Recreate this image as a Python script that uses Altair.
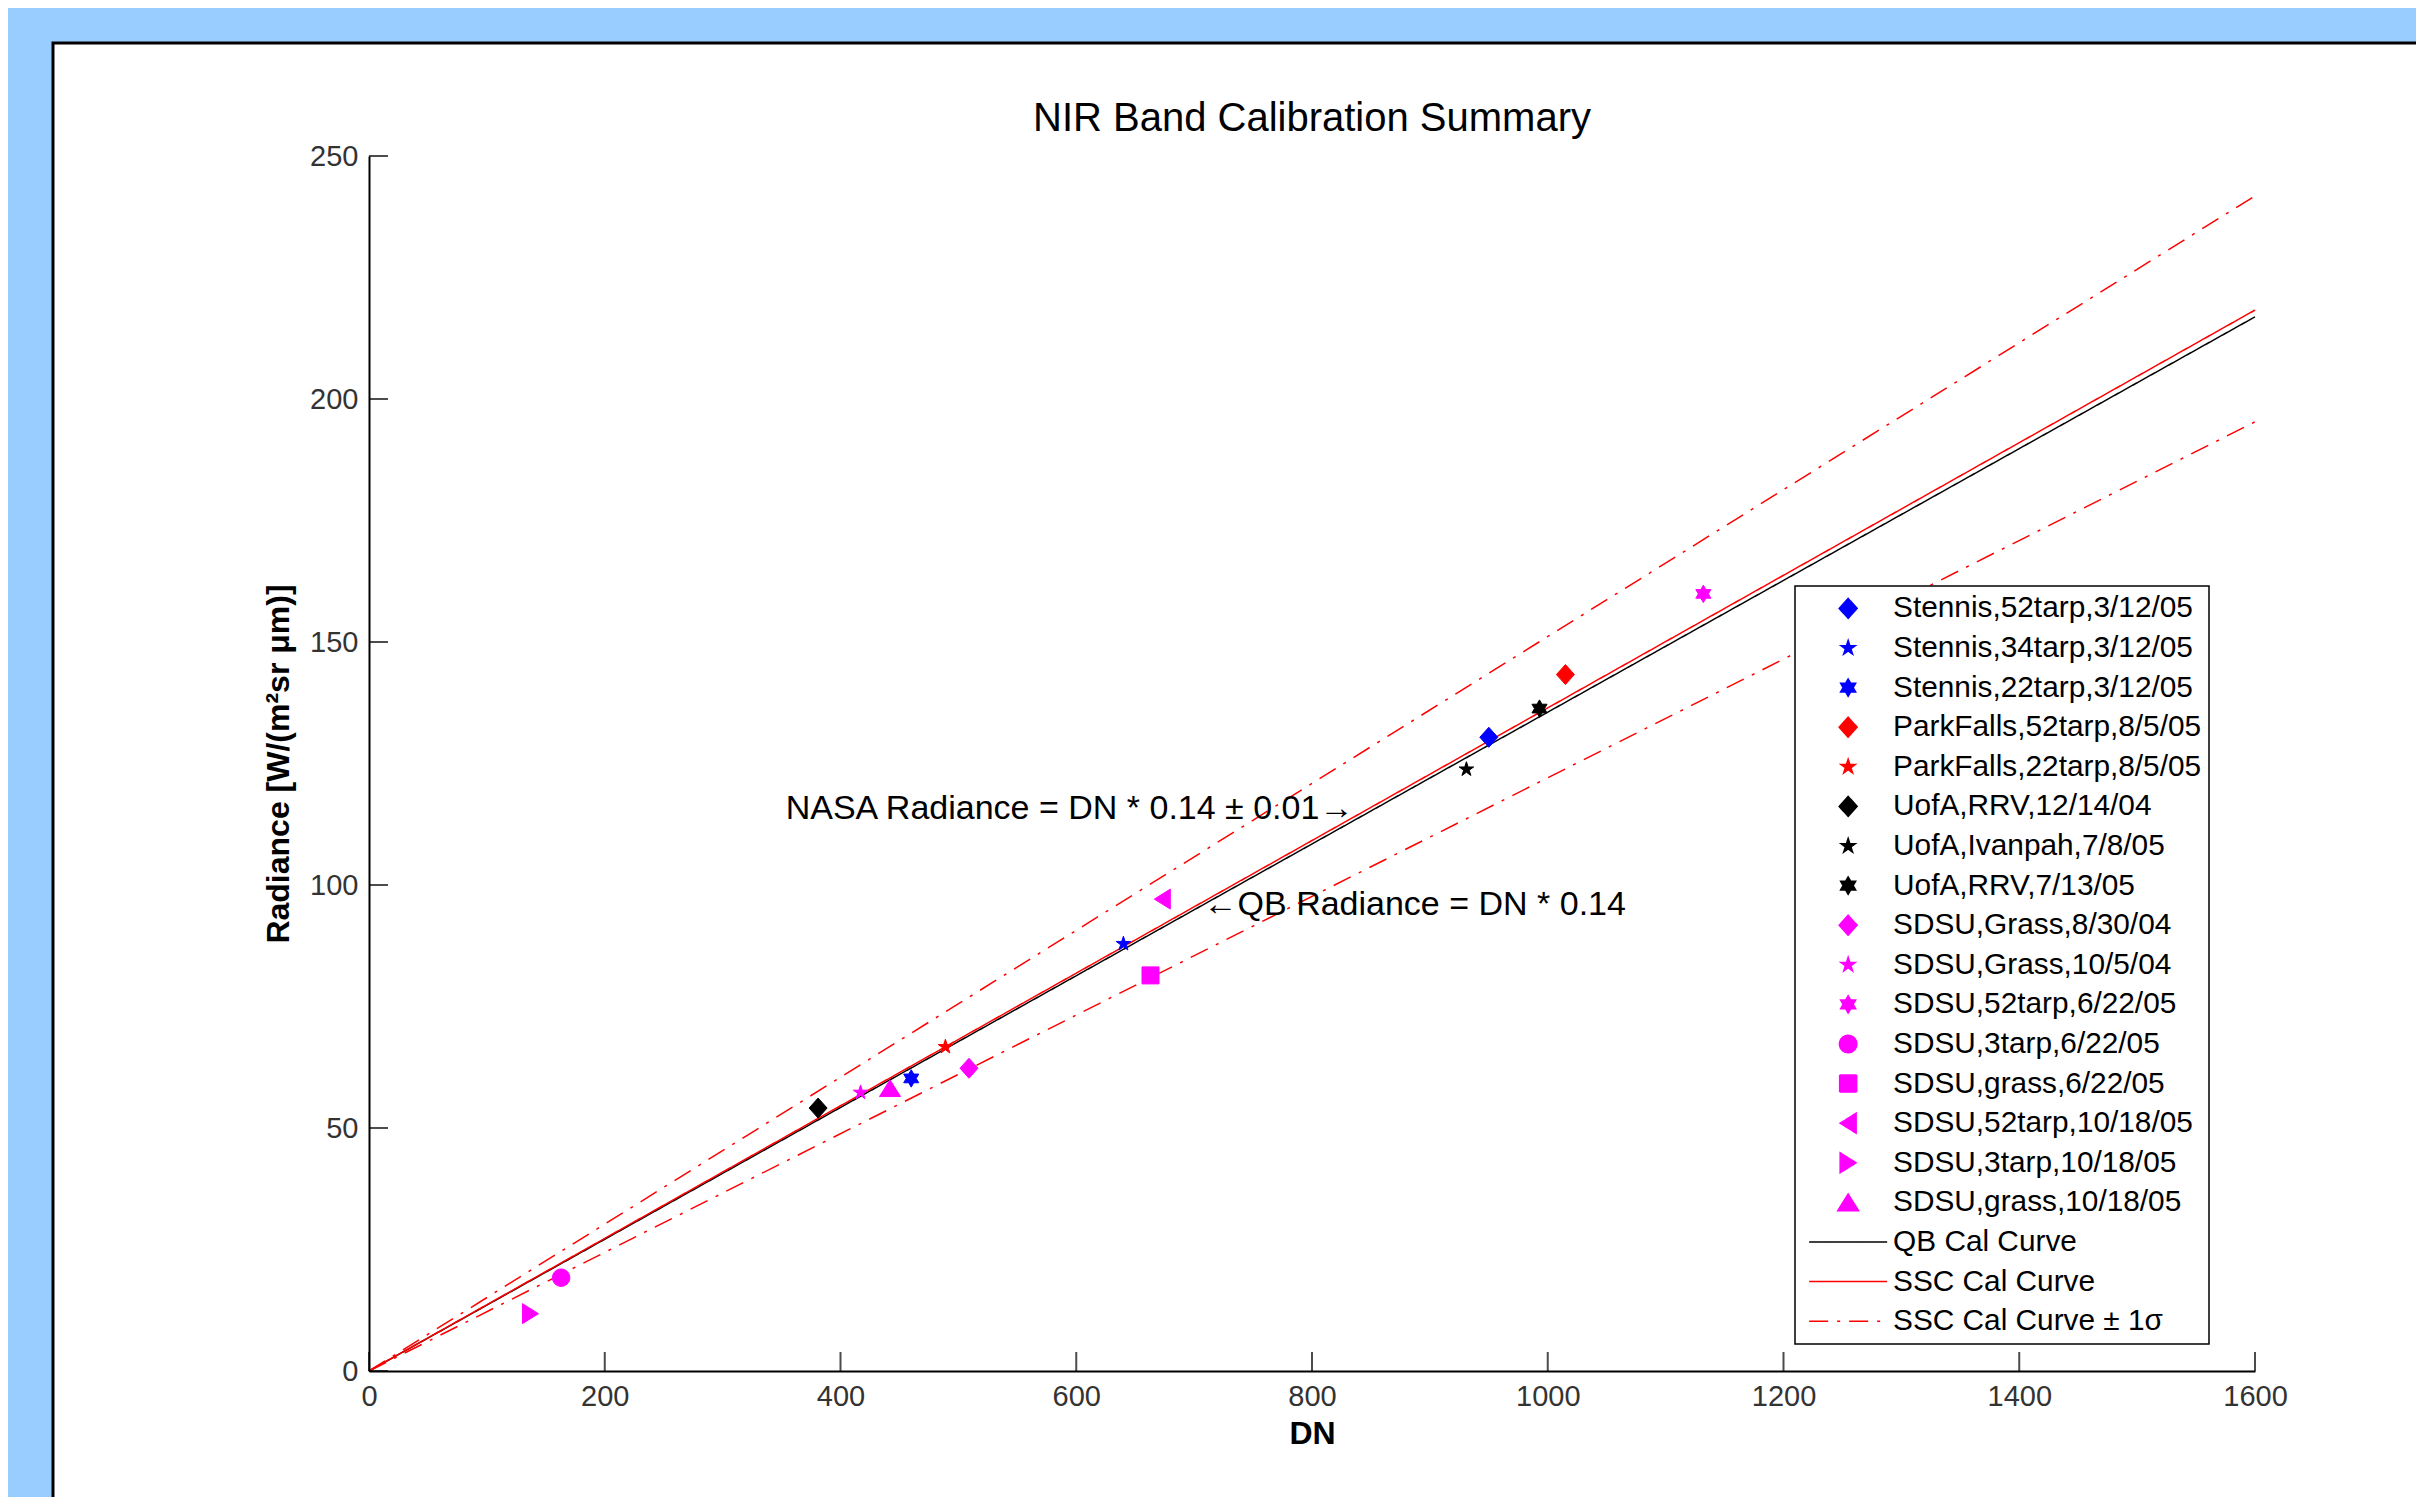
import math
import altair as alt
import pandas as pd

FONT = "Liberation Sans"

# ---------------- data ----------------
series_names = [
    "Stennis,52tarp,3/12/05", "Stennis,34tarp,3/12/05", "Stennis,22tarp,3/12/05",
    "ParkFalls,52tarp,8/5/05", "ParkFalls,22tarp,8/5/05",
    "UofA,RRV,12/14/04", "UofA,Ivanpah,7/8/05", "UofA,RRV,7/13/05",
    "SDSU,Grass,8/30/04", "SDSU,Grass,10/5/04", "SDSU,52tarp,6/22/05", "SDSU,3tarp,6/22/05",
    "SDSU,grass,6/22/05", "SDSU,52tarp,10/18/05", "SDSU,3tarp,10/18/05", "SDSU,grass,10/18/05",
    "QB Cal Curve", "SSC Cal Curve", "SSC Cal Curve ± 1σ",
]
series_colors = ["#0000FF"] * 3 + ["#FF0000"] * 2 + ["#000000"] * 3 + ["#FF00FF"] * 8 + \
    ["#000000", "#FF0000", "#FF0000"]
fill_colors = series_colors[:16] + ["transparent"] * 3

point_series = series_names[:16]
point_dn = [950, 640, 460, 1015, 489, 381, 931, 993, 509, 417, 1132, 163, 663, 673, 137, 442]
point_rad = [130.4, 87.9, 60.2, 143.3, 66.7, 54.1, 123.8, 136.3, 62.3, 57.3, 159.9, 19.2, 81.4, 97.1, 11.8, 58.2]

line_series = ["QB Cal Curve"] * 2 + ["SSC Cal Curve"] * 2 + ["SSC Cal Curve ± 1σ"] * 4
line_part = ["qb", "qb", "ssc", "ssc", "upper", "upper", "lower", "lower"]
line_dn = [0, 1600, 0, 1600, 0, 1600, 0, 1600]
line_rad = [0, 216.9, 0, 218.3, 0, 241.8, 0, 195.3]

x_ticks = [0, 200, 400, 600, 800, 1000, 1200, 1400, 1600]
y_ticks = [0, 50, 100, 150, 200, 250]

ann_text = ["NASA Radiance = DN * 0.14 ± 0.01→", "←QB Radiance = DN * 0.14"]
ann_dn = [353.5, 708]
ann_rad = [113.6, 93.8]

# ---------------- marker shapes (unit paths) ----------------
def star_path(n, r_out, r_in):
    pts = []
    for k in range(2 * n):
        r = r_out if k % 2 == 0 else r_in
        a = math.radians(-90 + k * 180 / n)
        pts.append(f"{r * math.cos(a):.3f},{r * math.sin(a):.3f}")
    return "M" + "L".join(pts) + "Z"

DIAMOND = "M0,-1L0.9,0L0,1L-0.9,0Z"
PENT = star_path(5, 0.76, 0.76 * 0.382)
HEX = star_path(6, 0.87, 0.87 * 0.577)
CIRCLE = "M0.87,0A0.87,0.87,0,1,1,-0.87,0A0.87,0.87,0,1,1,0.87,0Z"
SQUARE = "M-0.85,-0.85L0.85,-0.85L0.85,0.85L-0.85,0.85Z"
TRI_LEFT = "M-0.8,0L0.8,-1L0.8,1Z"
TRI_RIGHT = "M0.8,0L-0.8,-1L-0.8,1Z"
TRI_UP = "M0,-0.84L1.05,0.84L-1.05,0.84Z"
LINE = "M-3.9,0L3.9,0"

shapes = [DIAMOND, PENT, HEX, DIAMOND, PENT, DIAMOND, PENT, HEX, DIAMOND, PENT, HEX,
          CIRCLE, SQUARE, TRI_LEFT, TRI_RIGHT, TRI_UP, LINE, LINE, LINE]
dashes = [[1, 0]] * 18 + [[19, 9, 3, 9]]

points_df = pd.DataFrame({"series": point_series, "DN": point_dn, "Rad": point_rad})
lines_df = pd.DataFrame({"series": line_series, "part": line_part, "DN": line_dn, "Rad": line_rad})
xt_df = pd.DataFrame({"DN": x_ticks, "Rad": [0] * len(x_ticks)})
yt_df = pd.DataFrame({"DN": [0] * len(y_ticks), "Rad": y_ticks})
ann_df = pd.DataFrame({"label": ann_text, "DN": ann_dn, "Rad": ann_rad})

W, H = 1886, 1215

X_AXIS = alt.Axis(title="DN", values=x_ticks, grid=False, ticks=False, tickSize=0,
                  labelFlush=False, labelOverlap=False, labelPadding=11, titlePadding=7,
                  format="d", zindex=2, domain=True, labels=True)
Y_AXIS = alt.Axis(title="Radiance [W/(m²sr μm)]", values=y_ticks, grid=False, ticks=False,
                  tickSize=0, labelFlush=False, labelOverlap=False, labelPadding=11,
                  titlePadding=14, format="d", zindex=2, domain=True, labels=True)
X_SCALE = alt.Scale(domain=[0, 1600], nice=False, zero=False)
Y_SCALE = alt.Scale(domain=[0, 250], nice=False, zero=False)


def xenc():
    return alt.X("DN:Q", scale=X_SCALE, axis=X_AXIS)


def yenc():
    return alt.Y("Rad:Q", scale=Y_SCALE, axis=Y_AXIS)


leg = alt.Legend(title=None)

panel = alt.Chart(pd.DataFrame({"panel": [1]})).mark_rect(
    fill="white", stroke="black", strokeWidth=3
).encode(x=alt.value(-316), x2=alt.value(W + 400), y=alt.value(-113), y2=alt.value(H + 400))

lines = alt.Chart(lines_df).mark_line(strokeWidth=1.5).encode(
    x=xenc(), y=yenc(), detail="part:N",
    stroke=alt.Stroke("series:N", scale=alt.Scale(domain=series_names, range=series_colors), legend=leg),
    strokeDash=alt.StrokeDash("series:N", scale=alt.Scale(domain=series_names, range=dashes), legend=leg),
)

points = alt.Chart(points_df).mark_point(filled=True, opacity=1, size=400, strokeWidth=1).encode(
    x=xenc(), y=yenc(),
    fill=alt.Fill("series:N", scale=alt.Scale(domain=series_names, range=fill_colors), legend=leg),
    stroke=alt.Stroke("series:N", scale=alt.Scale(domain=series_names, range=series_colors), legend=leg),
    shape=alt.Shape("series:N", scale=alt.Scale(domain=series_names, range=shapes), legend=leg),
)

xticks = alt.Chart(xt_df).mark_tick(orient="vertical", size=19, thickness=2, yOffset=-9.5,
                                    color="black").encode(x=xenc(), y=yenc())
yticks = alt.Chart(yt_df).mark_tick(orient="horizontal", size=19, thickness=2, xOffset=9.5,
                                    color="black").encode(x=xenc(), y=yenc())

ann = alt.Chart(ann_df).mark_text(align="left", baseline="alphabetic", fontSize=34, font=FONT,
                                  color="black").encode(x=xenc(), y=yenc(), text="label:N")

chart = alt.layer(panel, lines, points, xticks, yticks, ann).properties(
    width=W, height=H,
    autosize=alt.AutoSizeParams(type="none"),
    padding={"left": 361, "top": 148, "right": 161, "bottom": 126},
    background="#99CCFF",
    title=alt.Title("NIR Band Calibration Summary", fontSize=40, font=FONT, fontWeight="normal",
                    color="black", anchor="middle", frame="group", offset=-97.5),
).configure_view(stroke="transparent").configure_axis(
    domainColor="black", domainWidth=2, labelFont=FONT, labelFontSize=29, labelColor="#333333",
    titleFont=FONT, titleFontSize=32, titleFontWeight="bold", titleColor="black", zindex=2,
).configure_legend(
    orient="none", legendX=1426, legendY=430, padding=7.5, rowPadding=8.6,
    symbolOffset=30.75, labelOffset=30, labelFontSize=29.8, labelFont=FONT, labelColor="black",
    labelLimit=500, symbolSize=400, symbolStrokeWidth=1.5, symbolOpacity=1,
    strokeColor="black", strokeWidth=1.5, fillColor="white", cornerRadius=0, symbolLimit=50,
)

chart.save("out.html", embed_options={"renderer": "svg", "actions": False})
